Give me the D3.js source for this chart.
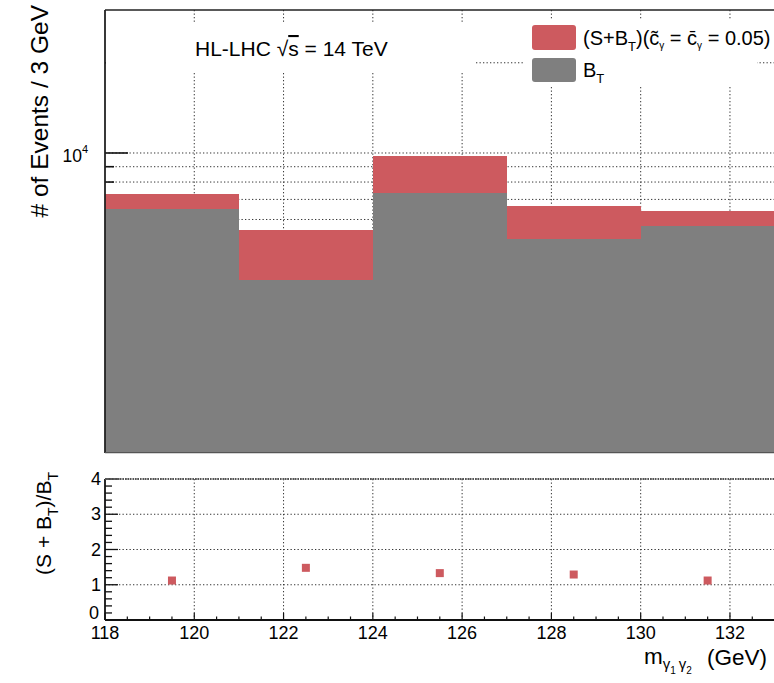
<!DOCTYPE html>
<html>
<head>
<meta charset="utf-8">
<script src="https://cdn.jsdelivr.net/npm/d3@7"></script>
<style>
  body { margin: 0; background: #fff; }
  svg { display: block; font-family: "Liberation Sans", Arial, Helvetica, sans-serif; }
</style>
</head>
<body>
<div id="chart"></div>
<script>
// bins of m_gg (GeV), 3 GeV wide
const binLow = [118, 121, 124, 127, 130];
const binWidth = 3;
const sbEvents = [7300, 5550, 9800, 6650, 6400];   // (S+B_T)
const bEvents = [6500, 3760, 7350, 5160, 5700];    // B_T
const ratioVals = [1.12, 1.48, 1.33, 1.29, 1.12];  // (S+B_T)/B_T
const xMajor = [118, 120, 122, 124, 126, 128, 130, 132];
const yLogTicks = [2000, 3000, 4000, 5000, 6000, 7000, 8000, 9000, 10000, 20000];
const ratioTicks = [0, 1, 2, 3, 4];

const W = 774, H = 683;
const red = '#cd5a5f', grey = '#7f7f7f';

const svg = d3.select('#chart').append('svg').attr('width', W).attr('height', H);

const x = d3.scaleLinear().domain([118, 133]).range([105, 774.6]);
const yTop = d3.scaleLog().domain([1000, 30000]).range([452.7, 10]);
const yLow = d3.scaleLinear().domain([0, 4]).range([620, 479]);

const dotted = g => g.attr('stroke', '#333').attr('stroke-width', 1).attr('stroke-dasharray', '1.3,2.2');

// ---------- top panel ----------
const upper = svg.append('g');

upper.selectAll('.vgrid').data(xMajor.filter(d => d > 118)).enter().append('line')
    .attr('x1', d => x(d)).attr('x2', d => x(d))
    .attr('y1', yTop.range()[1]).attr('y2', yTop.range()[0])
    .call(dotted);

upper.selectAll('.hgrid').data(yLogTicks).enter().append('line')
    .attr('x1', x(118)).attr('x2', W)
    .attr('y1', d => yTop(d)).attr('y2', d => yTop(d))
    .call(dotted);

// ticks on the left axis (behind the bars like in the original)
upper.selectAll('.ytick').data(yLogTicks).enter().append('line')
    .attr('x1', x(118)).attr('x2', d => x(118) + (d === 10000 ? 23 : 9))
    .attr('y1', d => yTop(d)).attr('y2', d => yTop(d))
    .attr('stroke', '#111').attr('stroke-width', 1.6);

upper.selectAll('.sb').data(binLow).enter().append('rect')
    .attr('x', d => x(d)).attr('width', d => x(d + binWidth) - x(d) + 0.5)
    .attr('y', (d, i) => yTop(sbEvents[i]))
    .attr('height', (d, i) => yTop.range()[0] - yTop(sbEvents[i]))
    .attr('fill', red).attr('shape-rendering', 'crispEdges');

upper.selectAll('.b').data(binLow).enter().append('rect')
    .attr('x', d => x(d)).attr('width', d => x(d + binWidth) - x(d) + 0.5)
    .attr('y', (d, i) => yTop(bEvents[i]))
    .attr('height', (d, i) => yTop.range()[0] - yTop(bEvents[i]))
    .attr('fill', grey).attr('shape-rendering', 'crispEdges');

// white boxes of the text pads
upper.append('rect').attr('x', 106).attr('y', 22).attr('width', 370).attr('height', 51).attr('fill', '#fff');
upper.append('rect').attr('x', 525).attr('y', 20).attr('width', 232).attr('height', 67).attr('fill', '#fff');

// frame
upper.append('line').attr('x1', x(118)).attr('x2', W).attr('y1', 10).attr('y2', 10)
    .attr('stroke', '#222').attr('stroke-width', 1.6);
upper.append('line').attr('x1', x(118)).attr('x2', x(118)).attr('y1', 10).attr('y2', 453)
    .attr('stroke', '#222').attr('stroke-width', 1.8);
upper.append('line').attr('x1', x(118)).attr('x2', W).attr('y1', 452.7).attr('y2', 452.7)
    .attr('stroke', '#555').attr('stroke-width', 1.2);

upper.append('text').attr('x', 88).attr('y', yTop(10000) + 9)
    .attr('text-anchor', 'end').attr('font-size', 17.5)
    .text('10')
    .append('tspan').attr('font-size', 11).attr('dy', -9).text('4');

upper.append('text')
    .attr('transform', 'translate(48,5) rotate(-90)')
    .attr('text-anchor', 'end').attr('font-size', 24.5)
    .text('# of Events / 3 GeV');

const hl = upper.append('text').attr('x', 195).attr('y', 56).attr('font-size', 21);
hl.append('tspan').text('HL-LHC \u221A');
hl.append('tspan').style('text-decoration', 'overline').text('s');
hl.append('tspan').text(' = 14 TeV');

// legend
upper.append('rect').attr('x', 532).attr('y', 25).attr('width', 44).attr('height', 25).attr('rx', 3).attr('fill', red);
upper.append('rect').attr('x', 532).attr('y', 58).attr('width', 44).attr('height', 24).attr('rx', 3).attr('fill', grey);

const l1 = upper.append('text').attr('x', 583).attr('y', 45).attr('font-size', 20);
l1.append('tspan').text('(S+B');
l1.append('tspan').attr('font-size', 13).attr('dy', 6).text('T');
l1.append('tspan').attr('dy', -6).text(')(c\u0303');
l1.append('tspan').attr('font-size', 10).attr('dy', 4).text('\u03B3');
l1.append('tspan').attr('dy', -4).text(' = c\u0304');
l1.append('tspan').attr('font-size', 10).attr('dy', 4).text('\u03B3');
l1.append('tspan').attr('dy', -4).text(' = 0.05)');

const l2 = upper.append('text').attr('x', 583).attr('y', 77).attr('font-size', 20);
l2.append('tspan').text('B');
l2.append('tspan').attr('font-size', 13).attr('dy', 6).text('T');

// ---------- ratio panel ----------
const low = svg.append('g');

low.selectAll('.vgrid').data(xMajor.filter(d => d > 118)).enter().append('line')
    .attr('x1', d => x(d)).attr('x2', d => x(d))
    .attr('y1', yLow(4)).attr('y2', yLow(0))
    .call(dotted);
low.selectAll('.hgrid').data(ratioTicks.filter(d => d > 0)).enter().append('line')
    .attr('x1', x(118)).attr('x2', W)
    .attr('y1', d => yLow(d)).attr('y2', d => yLow(d))
    .call(dotted);

const minorY = d3.range(0, 4.001, 0.2);
low.selectAll('.ytk').data(minorY).enter().append('line')
    .attr('x1', x(118)).attr('x2', d => x(118) + (Math.abs(d - Math.round(d)) < 1e-6 ? 13 : 7))
    .attr('y1', d => yLow(d)).attr('y2', d => yLow(d))
    .attr('stroke', '#111').attr('stroke-width', 1.3);

const minorX = d3.range(118, 133.001, 0.5);
low.selectAll('.xtk').data(minorX).enter().append('line')
    .attr('x1', d => x(d)).attr('x2', d => x(d))
    .attr('y1', yLow(0)).attr('y2', d => yLow(0) - (d % 2 === 0 ? 7 : 3.5))
    .attr('stroke', '#111').attr('stroke-width', 1.2);

low.append('line').attr('x1', x(118)).attr('x2', W).attr('y1', yLow(0)).attr('y2', yLow(0))
    .attr('stroke', '#111').attr('stroke-width', 2);
low.append('line').attr('x1', x(118)).attr('x2', x(118)).attr('y1', yLow(4)).attr('y2', yLow(0))
    .attr('stroke', '#111').attr('stroke-width', 1.8);
low.append('line').attr('x1', x(118)).attr('x2', W).attr('y1', yLow(4)).attr('y2', yLow(4))
    .attr('stroke', '#555').attr('stroke-width', 2).attr('stroke-dasharray', '1.5,1');

low.selectAll('.pt').data(binLow).enter().append('rect')
    .attr('x', d => x(d + binWidth / 2) - 4)
    .attr('y', (d, i) => yLow(ratioVals[i]) - 4)
    .attr('width', 8).attr('height', 8).attr('fill', red);

low.selectAll('.ylab').data(ratioTicks).enter().append('text')
    .attr('x', d => d === 0 ? 99 : 101).attr('y', d => yLow(d) + 6 - (d === 0 ? 7 : 0))
    .attr('text-anchor', 'end').attr('font-size', 18)
    .text(d => d);

low.selectAll('.xlab').data(xMajor).enter().append('text')
    .attr('x', d => x(d)).attr('y', 639)
    .attr('text-anchor', 'middle').attr('font-size', 18)
    .text(d => d);

const yl = low.append('text')
    .attr('transform', 'translate(51,472) rotate(-90)')
    .attr('text-anchor', 'end').attr('font-size', 21);
yl.append('tspan').text('(S + B');
yl.append('tspan').attr('font-size', 14).attr('dy', 7).text('T');
yl.append('tspan').attr('dy', -7).text(')/B');
yl.append('tspan').attr('font-size', 14).attr('dy', 7).text('T');

const xl = low.append('text').attr('x', 644).attr('y', 664).attr('font-size', 22.5);
xl.append('tspan').text('m');
xl.append('tspan').attr('font-size', 15).attr('dy', 5).text('\u03B3');
xl.append('tspan').attr('font-size', 10).attr('dy', 5).text('1');
xl.append('tspan').attr('font-size', 15).attr('dy', -5).attr('dx', 3).text('\u03B3');
xl.append('tspan').attr('font-size', 10).attr('dy', 5).text('2');
low.append('text').attr('x', 707).attr('y', 665).attr('font-size', 22.5).text('(GeV)');
</script>
</body>
</html>
